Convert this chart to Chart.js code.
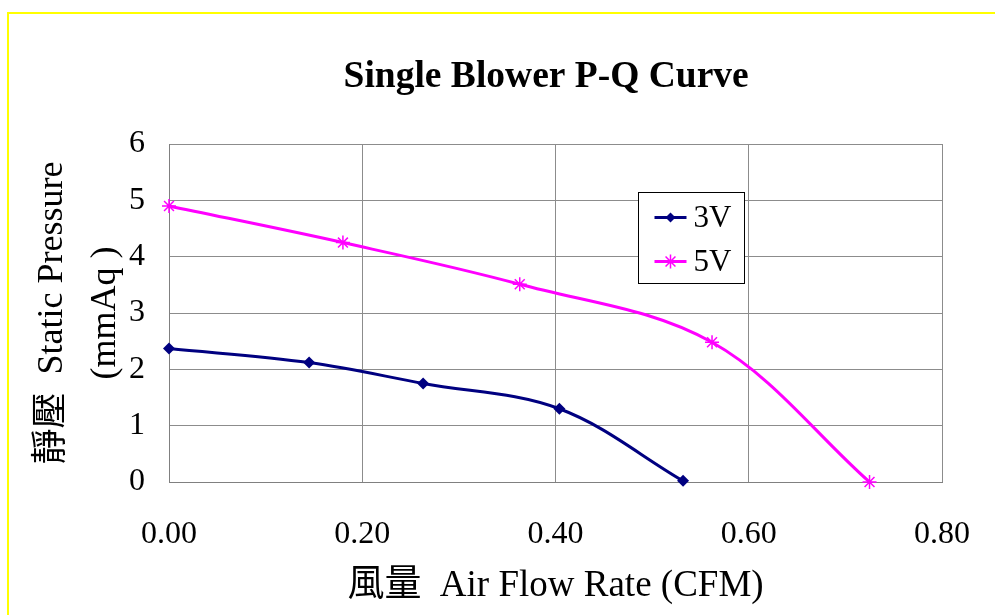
<!DOCTYPE html>
<html>
<head>
<meta charset="utf-8">
<script src="https://cdn.jsdelivr.net/npm/chart.js@4/dist/chart.umd.min.js"></script>
<style>
  html, body { margin: 0; padding: 0; background: #ffffff; }
  #wrap { position: relative; width: 995px; height: 615px; }
  canvas { display: block; }
</style>
</head>
<body>
<div id="wrap"><canvas id="c" width="995" height="615"></canvas></div>
<script>
// ---- data ----
const seriesNames = ['3V', '5V'];
const flow3V = [0.0, 0.145, 0.263, 0.404, 0.532];
const pressure3V = [2.37, 2.12, 1.75, 1.30, 0.02];
const flow5V = [0.0, 0.180, 0.363, 0.562, 0.725];
const pressure5V = [4.90, 4.25, 3.51, 2.48, 0.0];
const xTicks = [0.0, 0.2, 0.4, 0.6, 0.8];
const yTicks = [0, 1, 2, 3, 4, 5, 6];
const chartTitle = 'Single Blower P-Q Curve  ';
const xTitle = '風量  Air Flow Rate (CFM)';
const yTitle = ['靜壓  Static Pressure', '(mmAq )'];

const FAMILY = "'Liberation Serif', 'Times New Roman', 'Noto Sans CJK TC', serif";

function toPoints(xs, ys) { return xs.map((x, i) => ({ x: x, y: ys[i] })); }

const frame = {
  id: 'frame',
  beforeDraw(chart) {
    const ctx = chart.ctx;
    ctx.save();
    ctx.fillStyle = '#ffffff';
    ctx.fillRect(0, 0, chart.width, chart.height);
    ctx.strokeStyle = '#ffff00';
    ctx.lineWidth = 2;
    ctx.beginPath();
    ctx.moveTo(8, chart.height + 5);
    ctx.lineTo(8, 13);
    ctx.lineTo(chart.width + 5, 13);
    ctx.stroke();
    ctx.restore();
  }
};

function drawMarker(ctx, style, x, y, r, color) {
  ctx.save();
  ctx.strokeStyle = color;
  ctx.fillStyle = color;
  if (style === 'rectRot') {
    ctx.beginPath();
    ctx.moveTo(x, y - r); ctx.lineTo(x + r, y); ctx.lineTo(x, y + r); ctx.lineTo(x - r, y);
    ctx.closePath(); ctx.fill();
  } else {
    ctx.lineWidth = 1.5;
    ctx.beginPath();
    ctx.moveTo(x, y - r); ctx.lineTo(x, y + r);
    ctx.moveTo(x - r, y); ctx.lineTo(x + r, y);
    const d = r * 0.7071;
    ctx.moveTo(x - d, y - d); ctx.lineTo(x + d, y + d);
    ctx.moveTo(x - d, y + d); ctx.lineTo(x + d, y - d);
    ctx.stroke();
  }
  ctx.restore();
}

const insideLegend = {
  id: 'insideLegend',
  afterDatasetsDraw(chart) {
    const ctx = chart.ctx;
    const a = chart.chartArea;
    const bx = a.left + 469.5, by = a.top + 48.5, bw = 106, bh = 91;
    ctx.save();
    ctx.fillStyle = '#ffffff';
    ctx.fillRect(bx, by, bw, bh);
    ctx.strokeStyle = '#000000';
    ctx.lineWidth = 1;
    ctx.strokeRect(bx, by, bw, bh);
    chart.data.datasets.forEach((ds, i) => {
      const cy = by + 25 + i * 44;
      ctx.strokeStyle = ds.borderColor;
      ctx.lineWidth = 3;
      ctx.beginPath();
      ctx.moveTo(bx + 16, cy);
      ctx.lineTo(bx + 48, cy);
      ctx.stroke();
      drawMarker(ctx, ds.pointStyle, bx + 32, cy, ds.pointStyle === 'rectRot' ? 5 : 7, ds.borderColor);
      ctx.fillStyle = '#000000';
      ctx.font = "31px " + FAMILY;
      ctx.textAlign = 'left';
      ctx.textBaseline = 'middle';
      ctx.fillText(ds.label, bx + 55, cy + 1);
    });
    ctx.restore();
  }
};

new Chart(document.getElementById('c'), {
  type: 'line',
  data: {
    datasets: [
      {
        label: seriesNames[0],
        data: toPoints(flow3V, pressure3V),
        borderColor: '#000080',
        backgroundColor: '#000080',
        borderWidth: 3,
        pointStyle: 'rectRot',
        pointRadius: 6,
        pointBorderWidth: 0,
        tension: 0.35,
        clip: false
      },
      {
        label: seriesNames[1],
        data: toPoints(flow5V, pressure5V),
        borderColor: '#ff00ff',
        backgroundColor: '#ff00ff',
        borderWidth: 3,
        pointStyle: 'star',
        pointRadius: 7,
        pointBorderWidth: 1.5,
        tension: 0.35,
        clip: false
      }
    ]
  },
  options: {
    responsive: false,
    animation: false,
    events: [],
    layout: { padding: { left: 0, right: 53, top: 0, bottom: 0 } },
    plugins: {
      legend: { display: false },
      tooltip: { enabled: false },
      title: {
        display: true,
        text: chartTitle,
        fullSize: false,
        color: '#000000',
        font: { family: FAMILY, size: 37.5, weight: 'bold', lineHeight: 1.2 },
        padding: { top: 55, bottom: 44 }
      }
    },
    scales: {
      x: {
        type: 'linear',
        min: xTicks[0],
        max: xTicks[xTicks.length - 1],
        afterFit(scale) { scale.height = 133; },
        afterBuildTicks(scale) { scale.ticks = xTicks.map(v => ({ value: v })); },
        ticks: {
          color: '#000000',
          padding: 4,
          font: { family: FAMILY, size: 32, lineHeight: 1.2 },
          callback: v => Number(v).toFixed(2)
        },
        grid: { color: '#8c8c8c', lineWidth: 1, drawTicks: true, tickLength: 29, tickColor: 'rgba(0,0,0,0)' },
        border: { color: '#808080', width: 1 },
        title: {
          display: true,
          text: xTitle,
          color: '#000000',
          font: { family: FAMILY, size: 37, lineHeight: 1.2 },
          padding: { top: 0, bottom: 7 }
        }
      },
      y: {
        type: 'linear',
        min: yTicks[0],
        max: yTicks[yTicks.length - 1],
        afterFit(scale) { scale.width = 169; },
        afterBuildTicks(scale) { scale.ticks = yTicks.map(v => ({ value: v })); },
        ticks: {
          color: '#000000',
          padding: 24,
          font: { family: FAMILY, size: 32, lineHeight: 1.2 },
          callback: v => String(v)
        },
        grid: { color: '#8c8c8c', lineWidth: 1, drawTicks: false },
        border: { color: '#808080', width: 1 },
        title: {
          display: true,
          text: yTitle,
          color: '#000000',
          font: { family: FAMILY, size: 36, lineHeight: 1.467 },
          padding: { top: 26, bottom: 0 }
        }
      }
    }
  },
  plugins: [frame, insideLegend]
});
</script>
</body>
</html>
